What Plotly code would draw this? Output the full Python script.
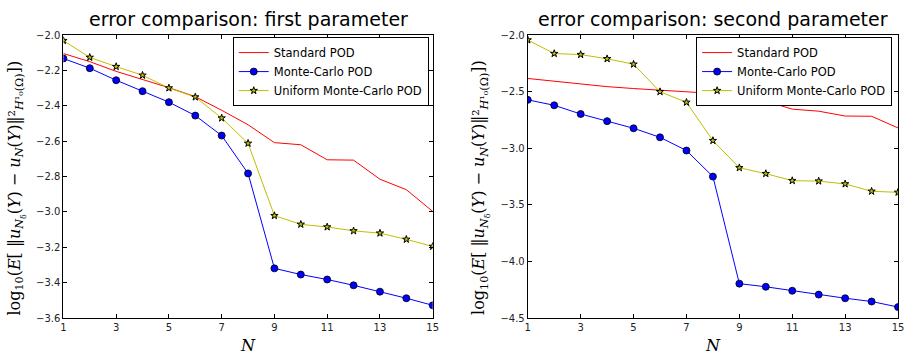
import plotly.graph_objects as go

N = list(range(1, 16))

# first parameter
std1 = [-2.104, -2.150, -2.205, -2.251, -2.297, -2.348, -2.425, -2.507, -2.608, -2.620,
        -2.705, -2.707, -2.815, -2.874, -2.997]
mc1 = [-2.132, -2.187, -2.255, -2.317, -2.379, -2.455, -2.568, -2.782, -3.319, -3.354,
       -3.382, -3.415, -3.451, -3.488, -3.528]
umc1 = [-2.031, -2.126, -2.178, -2.227, -2.299, -2.350, -2.469, -2.612, -3.021, -3.070,
        -3.085, -3.107, -3.120, -3.155, -3.195]

# second parameter
std2 = [-2.383, -2.406, -2.435, -2.455, -2.472, -2.486, -2.500, -2.515, -2.557, -2.583,
        -2.654, -2.672, -2.715, -2.717, -2.820]
mc2 = [-2.572, -2.620, -2.697, -2.760, -2.823, -2.903, -3.020, -3.250, -4.196, -4.224,
       -4.259, -4.293, -4.325, -4.354, -4.403]
umc2 = [-2.043, -2.163, -2.172, -2.209, -2.257, -2.500, -2.594, -2.932, -3.172, -3.224,
        -3.286, -3.290, -3.315, -3.380, -3.389]

names = ["Standard POD", "Monte-Carlo POD", "Uniform Monte-Carlo POD"]
titles = ["error comparison: first parameter", "error comparison: second parameter"]
xticks = [1, 3, 5, 7, 9, 11, 13, 15]

RED = "#ff0000"
BLUE = "#0000ff"
YEL = "#bfbf00"

fig = go.Figure()

def add_traces(xa, ya, leg, std, mc, umc):
    fig.add_trace(go.Scatter(x=N, y=std, mode="lines", name=names[0],
                             line=dict(color=RED, width=1), xaxis=xa, yaxis=ya, legend=leg))
    fig.add_trace(go.Scatter(x=N, y=mc, mode="lines+markers", name=names[1],
                             line=dict(color=BLUE, width=1),
                             marker=dict(symbol="circle", size=7, color=BLUE,
                                         line=dict(color="black", width=0.8)),
                             xaxis=xa, yaxis=ya, legend=leg))
    fig.add_trace(go.Scatter(x=N, y=umc, mode="lines+markers", name=names[2],
                             line=dict(color=YEL, width=1),
                             marker=dict(symbol="star", size=5.5, color=YEL,
                                         line=dict(color="black", width=1)),
                             xaxis=xa, yaxis=ya, legend=leg))

add_traces("x", "y", "legend", std1, mc1, umc1)
add_traces("x2", "y2", "legend2", std2, mc2, umc2)

tickfont = dict(family="DejaVu Sans", size=10, color="#222222")
axis_common = dict(showgrid=False, zeroline=False, showline=True, linecolor="black",
                   linewidth=1, mirror="ticks", ticks="inside", ticklen=4,
                   tickcolor="black", tickfont=tickfont)

ydom = [37 / 359, 328 / 359]
fig.update_layout(
    width=910, height=359,
    margin=dict(l=0, r=0, t=0, b=0),
    paper_bgcolor="white", plot_bgcolor="white",
    xaxis=dict(domain=[61 / 910, 434 / 910], range=[1, 15], tickvals=xticks, **axis_common),
    yaxis=dict(domain=ydom, range=[-3.6, -2.0], dtick=0.2, tick0=-2.0, tickformat=".1f",
               **axis_common),
    xaxis2=dict(domain=[530 / 910, 904 / 910], range=[1, 15], tickvals=xticks,
                anchor="y2", **axis_common),
    yaxis2=dict(domain=ydom, range=[-4.5, -2.0], dtick=0.5, tick0=-2.0, tickformat=".1f",
                anchor="x2", **axis_common),
    legend=dict(x=430 / 910, y=1 - 33 / 359, xanchor="right", yanchor="top",
                bgcolor="white", bordercolor="black", borderwidth=1,
                font=dict(family="DejaVu Sans", size=11.5, color="black"),
                tracegroupgap=0, itemwidth=30),
    legend2=dict(x=898 / 910, y=1 - 33 / 359, xanchor="right", yanchor="top",
                 bgcolor="white", bordercolor="black", borderwidth=1,
                 font=dict(family="DejaVu Sans", size=11.5, color="black"),
                 tracegroupgap=0, itemwidth=30),
)

ylabel = ("log<sub>10</sub>(<i>E</i>[ ‖<i>u</i><sub><i>N</i><sub>δ</sub></sub>(<i>Y</i>) − "
          "<i>u</i><sub><i>N</i></sub>(<i>Y</i>)‖²<sub><i>H</i>¹₀(Ω)</sub>])")

annotations = []
for cx, cyl, t in [((61 + 434) / 2, 14, titles[0]), ((530 + 904) / 2, 483, titles[1])]:
    annotations.append(dict(text=t, x=cx / 910, y=1 - 14 / 359, xref="paper", yref="paper",
                            xanchor="center", yanchor="middle", showarrow=False,
                            font=dict(family="DejaVu Sans", size=19, color="black")))
    annotations.append(dict(text=ylabel, x=cyl / 910, y=1 - 188 / 359, xref="paper",
                            yref="paper", xanchor="center", yanchor="middle", textangle=-90,
                            showarrow=False,
                            font=dict(family="DejaVu Serif", size=16, color="black")))
    annotations.append(dict(text="<i>N</i>", x=cx / 910, y=1 - 350 / 359, xref="paper",
                            yref="paper", xanchor="center", yanchor="middle", showarrow=False,
                            font=dict(family="DejaVu Serif", size=16, color="black")))
fig.update_layout(annotations=annotations)

fig.write_html("out.html")
